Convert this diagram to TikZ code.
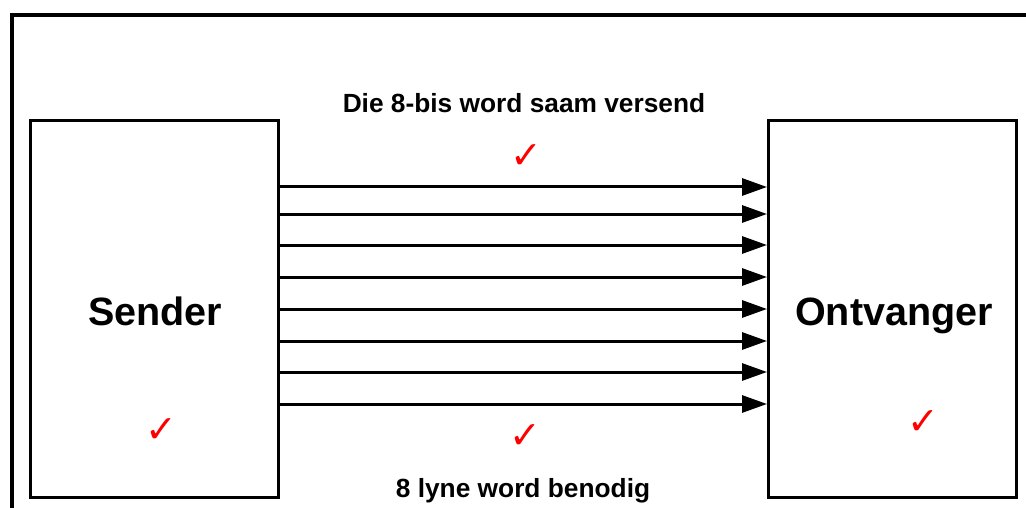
\documentclass[tikz,border=0pt]{standalone}
\usepackage{fontspec}
\setmainfont{Liberation Sans}
\newfontfamily\symfont{DejaVu Sans}
\usetikzlibrary{arrows.meta}
\begin{document}
\begin{tikzpicture}[x=1pt,y=-1pt,
  boxst/.style={draw=black,line width=3pt,minimum width=248pt,minimum height=376pt,inner sep=0pt},
  wire/.style={line width=3pt,-{Triangle[length=25pt,width=17pt]}},
  tick/.style={text=red,font=\symfont\bfseries\fontsize{38}{38}\selectfont,inner sep=0pt},
  lbl/.style={font=\bfseries\fontsize{26.3}{30}\selectfont,inner sep=0pt,anchor=base},
  big/.style={font=\bfseries\fontsize{39.5}{44}\selectfont,inner sep=0pt,anchor=base}]
\useasboundingbox (0,0) rectangle (1026,508);
\draw[line width=4pt] (12,530) -- (12,15) -- (1040,15);
\node[boxst] (snd) at (154,309) {};
\node[boxst] (rcv) at (892.5,309) {};
\node[big] (sndt) at (155,325) {Sender};
\node[big] (rcvt) at (894,325) {Ontvanger};
\node[lbl] (top) at (524,113) {Die 8-bis word saam versend};
\node[lbl] (bot) at (523,497) {8 lyne word benodig};
\foreach \y [count=\i] in {187,214,245,277,309,341,372,404}{
  \coordinate (s\i) at (snd.east |- 0,\y);
  \coordinate (r\i) at (rcv.west |- 0,\y);
  \draw[wire] (s\i) -- (r\i);
}
\node[tick] (t1) at (526,157) {✓};
\node[tick] (t2) at (161,431) {✓};
\node[tick] (t3) at (525,437) {✓};
\node[tick] (t4) at (923,423) {✓};
\end{tikzpicture}
\end{document}
